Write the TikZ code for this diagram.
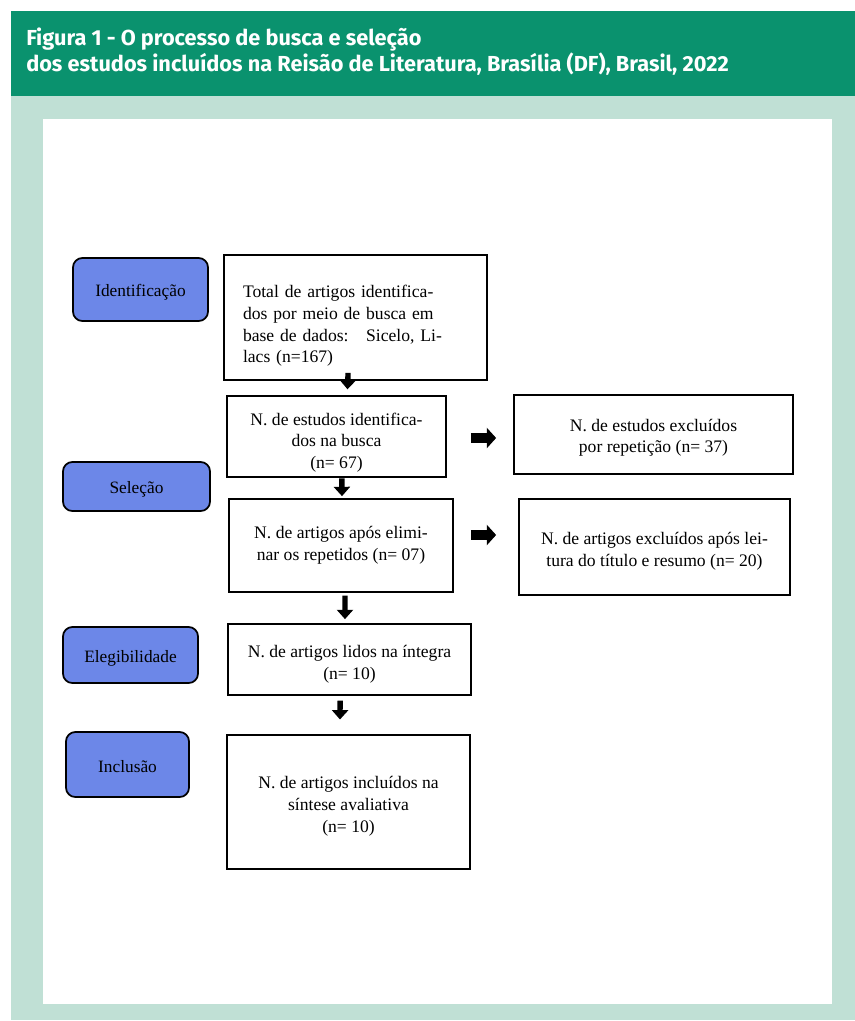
\documentclass[tikz,border=0pt]{standalone}
\usepackage{fontspec}
\setmainfont{Liberation Serif}
\newfontfamily\headfont{Fira Sans}
\usetikzlibrary{arrows.meta}
\definecolor{hdgreen}{RGB}{10,146,110}
\definecolor{panelgreen}{RGB}{192,224,213}
\definecolor{stageblue}{RGB}{108,135,232}
\newcommand{\lowerby}[1]{\rule{0pt}{#1}}
\tikzset{
  stage/.style={draw=black, line width=1.3pt, fill=stageblue, rounded corners=7pt, font=\fontsize{13}{15}\selectfont},
  stepbox/.style={draw=black, line width=1.3pt, fill=white, align=center, font=\fontsize{13.2}{16.25}\selectfont},
  downarrow/.style={line width=4pt, -{Triangle[width=12pt,length=7pt]}},
  rightarrow/.style={line width=7.5pt, -{Triangle[width=15pt,length=7pt]}}
}
\begin{document}
\begin{tikzpicture}[x=0.75pt,y=-0.75pt]
\useasboundingbox (0,0) rectangle (855,1021);
\fill[white] (0,0) rectangle (855,1021);
\fill[panelgreen] (11,96) rectangle (855,1020);
\fill[hdgreen] (11,11) rectangle (855,96);
\fill[white] (43,119) rectangle (832,1004);
\node[anchor=north west, text=white, align=left, inner sep=0pt, font=\headfont\bfseries\fontsize{16.3}{15.6}\selectfont] (title) at (26,28)
  {Figura 1 - O processo de busca e seleção\\dos estudos incluídos na Reisão de Literatura, Brasília (DF), Brasil, 2022};

% stage labels
\node[stage, minimum width=101.25pt, minimum height=47.25pt] (ident) at (140.5,289.5) {\lowerby{13.5pt}Identificação};
\node[stage, minimum width=110.25pt, minimum height=36.75pt] (sel) at (136.5,486.5) {\lowerby{13.5pt}Seleção};
\node[stage, minimum width=101.25pt, minimum height=42pt] (eleg) at (130.5,655) {\lowerby{13.5pt}Elegibilidade};
\node[stage, minimum width=92.25pt, minimum height=48.75pt] (inc) at (127.5,764.5) {\lowerby{12pt}Inclusão};

% main boxes
\node[stepbox, align=left, text width=168.75pt, inner xsep=14.25pt, minimum height=93.75pt] (total) at (355.5,317.5)
  {\lowerby{22pt}Total de artigos identifica-\\dos por meio de busca em\\base de dados:\ \ \ Sicelo, Li-\\lacs (n=167)};
\node[stepbox, minimum width=164.25pt, minimum height=57.75pt] (estudos) at (336.5,436.5)
  {\lowerby{18.5pt}N. de estudos identifica-\\dos na busca\\(n= 67)};
\node[stepbox, minimum width=209.25pt, minimum height=59.25pt] (excl1) at (653.5,434.5)
  {\lowerby{14pt}N. de estudos excluídos\\por repetição (n= 37)};
\node[stepbox, minimum width=168pt, minimum height=69.75pt] (apos) at (341,545.5)
  {N. de artigos após elimi-\\nar os repetidos (n= 07)};
\node[stepbox, minimum width=203.25pt, minimum height=72pt] (excl2) at (654.5,547)
  {\lowerby{15.5pt}N. de artigos excluídos após lei-\\tura do título e resumo (n= 20)};
\node[stepbox, minimum width=182.25pt, minimum height=53.25pt] (lidos) at (349.5,659.5)
  {\lowerby{16.5pt}N. de artigos lidos na íntegra\\(n= 10)};
\node[stepbox, minimum width=182.25pt, minimum height=100.5pt] (incl) at (348.5,802)
  {\lowerby{15.5pt}N. de artigos incluídos na\\síntese avaliativa\\(n= 10)};

% connectors
\draw[downarrow] ([xshift=-5.6pt,yshift=6pt]total.south) -- ([xshift=8.25pt,yshift=4.5pt]estudos.north);
\draw[downarrow] ([xshift=4pt,yshift=-0.5pt]estudos.south) -- ([xshift=0.75pt,yshift=1.5pt]apos.north);
\draw[downarrow] ([xshift=3pt,yshift=-2pt]apos.south) -- ([xshift=-3.4pt,yshift=3pt]lidos.north);
\draw[downarrow] ([xshift=-7pt,yshift=-3.5pt]lidos.south) -- ([xshift=-6.4pt,yshift=11pt]incl.north);
\draw[rightarrow] ([xshift=18pt,yshift=-1.125pt]estudos.east) -- ([xshift=-12.75pt,yshift=-2.625pt]excl1.west);
\draw[rightarrow] ([xshift=12.75pt,yshift=7.875pt]apos.east) -- ([xshift=-16.5pt,yshift=9pt]excl2.west);
\end{tikzpicture}
\end{document}
